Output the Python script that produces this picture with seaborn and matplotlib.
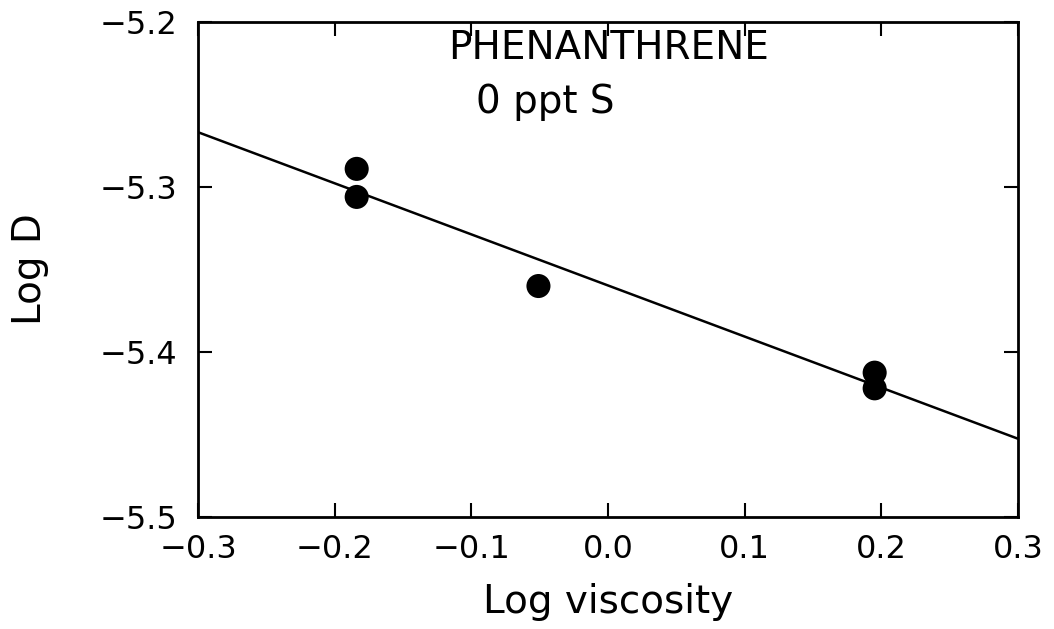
import matplotlib
matplotlib.use("Agg")
import matplotlib.pyplot as plt
import numpy as np
import pandas as pd
import seaborn as sns

# Phenanthrene diffusivity vs. viscosity, 0 ppt salinity
log_viscosity = [-0.184, -0.184, -0.051, 0.195, 0.195]
log_d = [-5.289, -5.306, -5.360, -5.4125, -5.422]

x_ticks = [-0.3, -0.2, -0.1, 0.0, 0.1, 0.2, 0.3]
y_ticks = [-5.5, -5.4, -5.3, -5.2]

df = pd.DataFrame({"Log viscosity": log_viscosity, "Log D": log_d})

sns.set_theme(style="ticks")
plt.rcParams["font.family"] = ["DejaVu Sans"]

fig = plt.figure(figsize=(10.54, 6.29), dpi=100)
ax = fig.add_axes([0.188, 0.178, 0.778, 0.787])
ax.set_xlim(-0.3, 0.3)
ax.set_ylim(-5.5, -5.2)

sns.regplot(
    data=df, x="Log viscosity", y="Log D", ax=ax, ci=None, truncate=False,
    scatter_kws=dict(s=300, color="black", edgecolor="none", alpha=1, zorder=3),
    line_kws=dict(color="black", lw=1.8, zorder=2),
)
ax.set_xlim(-0.3, 0.3)
ax.set_ylim(-5.5, -5.2)

ax.set_xticks(x_ticks)
ax.set_xticklabels([f"{v:.1f}".replace("-", "\u2212") for v in x_ticks])
ax.set_yticks(y_ticks)
ax.set_yticklabels([f"{v:.1f}".replace("-", "\u2212") for v in y_ticks])

ax.tick_params(direction="in", length=10, width=1.5, top=True, right=True,
               labelsize=23, colors="black")
ax.tick_params(axis="x", pad=12)
ax.tick_params(axis="y", pad=15)
for sp in ax.spines.values():
    sp.set_linewidth(2)
    sp.set_color("black")
    sp.set_visible(True)

ax.set_xlabel("Log viscosity", fontsize=28, color="black", va="center")
ax.xaxis.set_label_coords(0.5, -0.172)
ax.set_ylabel("Log D", fontsize=28, color="black", va="center")
ax.yaxis.set_label_coords(-0.205, 0.5)

ax.text(0.5, 0.947, "PHENANTHRENE", transform=ax.transAxes, ha="center",
        va="center", fontsize=28, color="black")
ax.text(0.339, 0.838, "0 ppt S", transform=ax.transAxes, ha="left",
        va="center", fontsize=28, color="black")

fig.savefig("out.png", dpi=100, facecolor="white")
